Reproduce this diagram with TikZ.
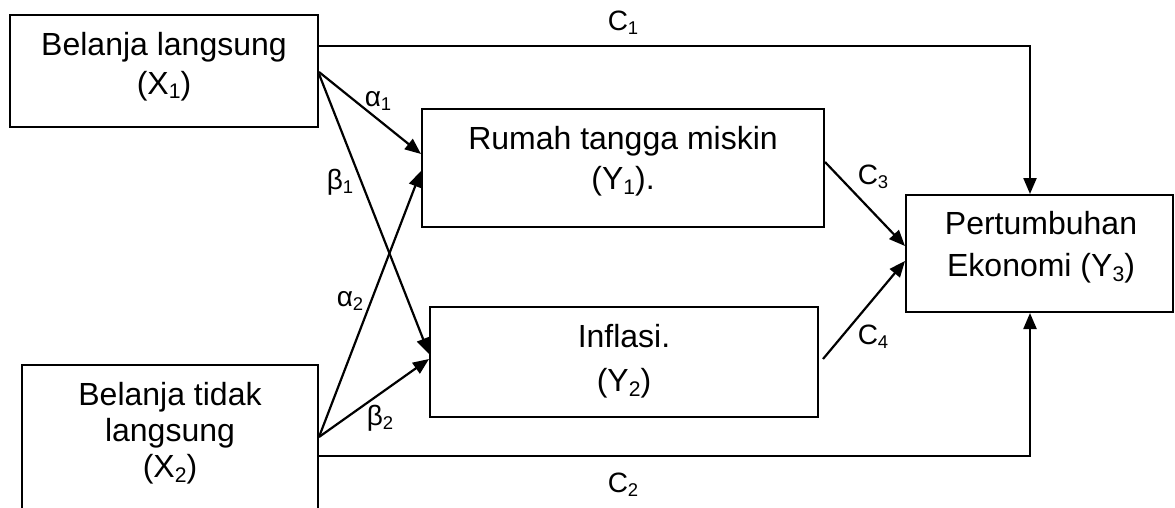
\documentclass[tikz,border=0pt]{standalone}
\usepackage{fontspec}
\setmainfont{Liberation Sans}
\usetikzlibrary{arrows.meta,calc}
\makeatletter
\newcommand{\sbs}[1]{\raisebox{-0.14em}{\fontsize{\the\dimexpr 0.66\dimexpr\f@size pt\relax\relax}{0pt}\selectfont #1}}
\makeatother
\begin{document}
\begin{tikzpicture}[x=1pt,y=-1pt,
  box/.style={draw, line width=2pt, rectangle, inner sep=0pt},
  txt/.style={inner sep=0pt, align=center},
  conn/.style={line width=2.2pt, -{Triangle[length=16pt,width=13pt]}},
  lbl/.style={font=\fontsize{28}{32}\selectfont, inner sep=0pt}]
\useasboundingbox (0,0) rectangle (1175,508);
\clip (0,0) rectangle (1175,508);
% boxes
\node[box, minimum width=308pt, minimum height=112pt] (X1) at (164,71) {};
\node[box, minimum width=296pt, minimum height=165pt] (X2) at (170,447.5) {};
\node[box, minimum width=402pt, minimum height=118pt] (Y1) at (623,168) {};
\node[box, minimum width=388pt, minimum height=110pt] (Y2) at (624,362) {};
\node[box, minimum width=267pt, minimum height=117pt] (Y3) at (1039.5,253.5) {};
% box texts
\node[txt, font=\fontsize{32}{39}\selectfont] (X1t) at (164,66.3) {Belanja langsung\\(X\sbs{1})};
\node[txt, font=\fontsize{32}{36}\selectfont] (X2t) at (170,433.7) {Belanja tidak\\langsung\\(X\sbs{2})};
\node[txt, font=\fontsize{32}{40}\selectfont] (Y1t) at (623,161.7) {Rumah tangga miskin\\(Y\sbs{1}).};
\node[txt, font=\fontsize{32}{44}\selectfont] (Y2t) at (624,361.7) {Inflasi.\\(Y\sbs{2})};
\node[txt, font=\fontsize{32}{42}\selectfont] (Y3t) at (1041,247.7) {Pertumbuhan\\Ekonomi (Y\sbs{3})};
% connectors
\draw[conn] ([yshift=-32pt]X1.north east) -| ([xshift=-9.5pt]Y3.north);
\draw[conn] ([yshift=-92pt]X2.north east) -| ([xshift=-9.5pt]Y3.south);
\draw[conn] ([yshift=-58pt]X1.north east) -- ([yshift=-46pt]Y1.north west);
\draw[conn] ([yshift=-60pt]X1.north east) -- ([yshift=-48pt]Y2.north west);
\draw[conn] ([yshift=-73pt]X2.north east) -- ([yshift=-63pt]Y1.north west);
\draw[conn] ([yshift=-73pt]X2.north east) -- ([yshift=-53pt]Y2.north west);
\draw[conn] ([yshift=-54pt]Y1.north east) -- ([yshift=-52pt]Y3.north west);
\draw[conn] ([xshift=4pt,yshift=-53pt]Y2.north east) -- ([yshift=-67pt]Y3.north west);
% labels
\node[lbl] (lc1) at (623,23) {C\sbs{1}};
\node[lbl] (lc2) at (623,485) {C\sbs{2}};
\node[lbl] (lc3) at (873,177) {C\sbs{3}};
\node[lbl] (lc4) at (873,337) {C\sbs{4}};
\node[lbl] (la1) at (378,101) {α\sbs{1}};
\node[lbl] (lb1) at (340,182) {β\sbs{1}};
\node[lbl] (la2) at (350,301) {α\sbs{2}};
\node[lbl] (lb2) at (380,418) {β\sbs{2}};
\end{tikzpicture}
\end{document}
